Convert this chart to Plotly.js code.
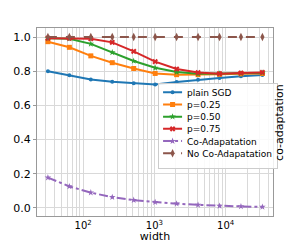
<!DOCTYPE html>
<html><head><meta charset="utf-8">
<script src="https://cdn.plot.ly/plotly-3.0.1.min.js"></script>
<style>html,body{margin:0;padding:0;background:#fff}#c{width:303px;height:243px}</style>
</head><body><div id="c"></div>
<script>
const widths = [32, 64, 128, 256, 512, 1024, 2048, 4096, 8192, 16384, 32768];
const plainSGD = [0.80, 0.776, 0.752, 0.738, 0.730, 0.722, 0.737, 0.750, 0.760, 0.770, 0.778];
const p025 = [0.973, 0.94, 0.89, 0.85, 0.816, 0.787, 0.78, 0.78, 0.782, 0.785, 0.787];
const p050 = [0.993, 0.99, 0.96, 0.91, 0.86, 0.82, 0.795, 0.785, 0.786, 0.787, 0.79];
const p075 = [0.993, 0.993, 0.99, 0.969, 0.916, 0.856, 0.813, 0.792, 0.786, 0.79, 0.793];
const coAdapt = [0.178, 0.126, 0.09, 0.063, 0.046, 0.034, 0.025, 0.018, 0.012, 0.009, 0.006];
const noCoAdapt = [1, 1, 1, 1, 1, 1, 1, 1, 1, 1, 1];
const seriesNames = ["plain SGD", "p=0.25", "p=0.50", "p=0.75", "Co-Adapatation", "No Co-Adapatation"];

const majorTicks = [100, 1000, 10000];
const majorText = ["10<sup>2</sup>", "10<sup>3</sup>", "10<sup>4</sup>"];
const tv = [], tt = [];
for (let e = 1; e <= 4; e++) {
  for (let m = 1; m <= 9; m++) {
    const v = m * Math.pow(10, e);
    tv.push(v);
    const k = majorTicks.indexOf(v);
    tt.push(k >= 0 ? majorText[k] : "");
  }
}

const font = {family: "DejaVu Sans", size: 11, color: "#000"};
function tr(y, name, color, sym, size, dash) {
  return {x: widths, y: y, name: name, type: "scatter", mode: "lines+markers",
    line: {color: color, width: 2, dash: dash || "solid"},
    marker: {color: color, symbol: sym, size: size}};
}
const data = [
  tr(plainSGD, seriesNames[0], "#1f77b4", "circle", 4),
  tr(p025, seriesNames[1], "#ff7f0e", "square", 5),
  tr(p050, seriesNames[2], "#2ca02c", "star", 5),
  tr(p075, seriesNames[3], "#d62728", "x", 5),
  tr(coAdapt, seriesNames[4], "#9467bd", "star", 5, "dashdot"),
  tr(noCoAdapt, seriesNames[5], "#8c564b", "diamond-tall", 6, "dash")
];
const layout = {
  width: 303, height: 243,
  margin: {l: 37, r: 30, t: 28, b: 27},
  paper_bgcolor: "#fff", plot_bgcolor: "#fff",
  font: font,
  showlegend: true,
  legend: {x: 0.513, y: 0.706, xanchor: "left", yanchor: "top",
    font: {family: "DejaVu Sans", size: 9, color: "#000"},
    bgcolor: "rgba(255,255,255,0.85)", bordercolor: "#ccc", borderwidth: 1,
    tracegroupgap: 0, itemwidth: 30},
  xaxis: {type: "log", range: [1.352, 4.664], tickmode: "array", tickvals: tv, ticktext: tt,
    showgrid: true, gridcolor: "#d9d9d9", gridwidth: 1,
    showline: true, linecolor: "#999", linewidth: 1, mirror: true,
    ticks: "", zeroline: false, tickfont: {family: "DejaVu Sans", size: 10, color: "#000"},
    title: {text: "width", font: font, standoff: 2}},
  yaxis: {range: [-0.047, 1.053], tickvals: [0, 0.2, 0.4, 0.6, 0.8, 1.0],
    ticktext: ["0.0", "0.2", "0.4", "0.6", "0.8", "1.0"],
    showgrid: true, gridcolor: "#d9d9d9", gridwidth: 1,
    showline: true, linecolor: "#999", linewidth: 1, mirror: true,
    ticks: "outside", ticklen: 3, tickcolor: "#999",
    zeroline: false, tickfont: font},
  annotations: [{text: "co-adaptation", xref: "paper", yref: "paper", x: 1.025, y: 0.5,
    xanchor: "center", yanchor: "middle", textangle: -90, showarrow: false, font: font}]
};
function parseT(t) {
  const m = /translate\(\s*([-\d.e]+)[\s,]+([-\d.e]+)\s*\)/.exec(t || "");
  return m ? [+m[1], +m[2]] : [0, 0];
}
Plotly.newPlot("c", data, layout, {staticPlot: true, displayModeBar: false}).then(function (gd) {
  try {
    const leg = gd.querySelector("g.legend");
    const traces = leg.querySelectorAll("g.traces");
    const n = traces.length;
    const first = parseT(traces[0].getAttribute("transform"));
    const last = parseT(traces[n - 1].getAttribute("transform"));
    const step = 12.2, shiftX = 12, up = 6.5;
    const saved = (last[1] - first[1]) - (n - 1) * step + up;
    traces.forEach(function (g, i) {
      const p = parseT(g.getAttribute("transform"));
      g.setAttribute("transform", "translate(" + p[0] + "," + (first[1] - up + i * step) + ")");
      g.querySelectorAll(".legendlines path").forEach(function (pp) { pp.setAttribute("d", "M4,0h19"); });
      g.querySelectorAll(".legendpoints path").forEach(function (pp) { pp.setAttribute("transform", "translate(13.5,0)"); });
      g.querySelectorAll("text.legendtext, text.legendtext tspan").forEach(function (t) {
        const x = t.getAttribute("x");
        if (x !== null) t.setAttribute("x", +x - shiftX);
      });
    });
    const bg = leg.querySelector("rect.bg");
    bg.setAttribute("height", +bg.getAttribute("height") - saved);
    bg.setAttribute("width", +bg.getAttribute("width") - shiftX);
  } catch (e) {}
});
</script></body></html>
